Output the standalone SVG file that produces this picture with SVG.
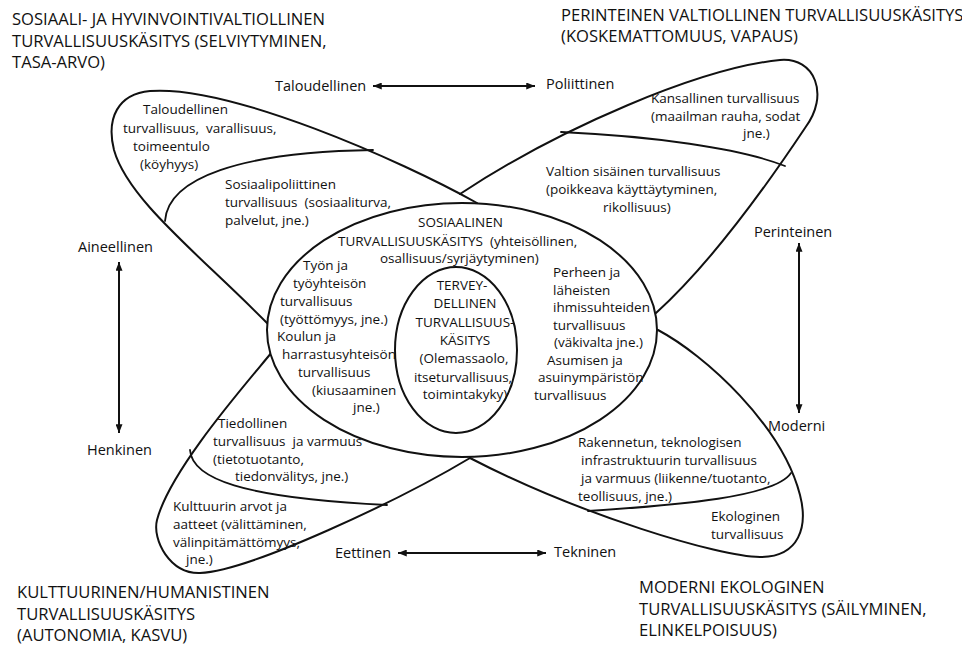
<svg xmlns="http://www.w3.org/2000/svg" width="962" height="646" viewBox="0 0 962 646">
<style>
text{font-family:"Open Sans","Noto Sans","Liberation Sans",sans-serif;fill:#111;white-space:pre}
.t{font-size:13.5px}
.ax{font-size:14.5px}
.h{font-size:16.6px}
.ln{fill:none;stroke:#111;stroke-width:2;stroke-linejoin:round;stroke-linecap:round}
.dv{fill:none;stroke:#111;stroke-width:1.8;stroke-linecap:round}
.ell{fill:#fff;stroke:#111;stroke-width:2}
.arr{stroke:#111;stroke-width:2;fill:none;marker-start:url(#ah);marker-end:url(#ah)}
.mid{text-anchor:middle}
</style>
<defs>
<marker id="ah" viewBox="0 0 10 8" refX="10" refY="4" markerWidth="9" markerHeight="7" markerUnits="userSpaceOnUse" orient="auto-start-reverse">
<path d="M0,0 L10,4 L0,8 z" fill="#111"/>
</marker>
</defs>
<rect width="962" height="646" fill="#fff"/>

<g id="titles">
<text class="h" x="12" y="25">SOSIAALI- JA HYVINVOINTIVALTIOLLINEN</text>
<text class="h" x="12" y="47">TURVALLISUUSKÄSITYS (SELVIYTYMINEN,</text>
<text class="h" x="12" y="68">TASA-ARVO)</text>
<text class="h" x="561" y="21">PERINTEINEN VALTIOLLINEN TURVALLISUUSKÄSITYS</text>
<text class="h" x="561" y="42">(KOSKEMATTOMUUS, VAPAUS)</text>
<text class="h" x="17" y="598">KULTTUURINEN/HUMANISTINEN</text>
<text class="h" x="17" y="620">TURVALLISUUSKÄSITYS</text>
<text class="h" x="17" y="641">(AUTONOMIA, KASVU)</text>
<text class="h" x="639" y="593">MODERNI EKOLOGINEN</text>
<text class="h" x="639" y="615">TURVALLISUUSKÄSITYS (SÄILYMINEN,</text>
<text class="h" x="639" y="636">ELINKELPOISUUS)</text>
</g>

<g id="petal-tl">
<path class="ln" d="M477,203 C400,160 230,85 150,91 C118,94 106,118 114,150 C128,200 200,255 268,324"/>
<path class="dv" d="M165,221 C168,178 240,152 373,150"/>
<text class="t" x="143" y="114">Taloudellinen</text>
<text class="t" x="123" y="133">turvallisuus,  varallisuus,</text>
<text class="t" x="133" y="151">toimeentulo</text>
<text class="t" x="140" y="169">(köyhyys)</text>
<text class="t" x="225" y="189">Sosiaalipoliittinen</text>
<text class="t" x="225" y="207">turvallisuus  (sosiaaliturva,</text>
<text class="t" x="225" y="225">palvelut, jne.)</text>
</g>

<g id="petal-tr">
<path class="ln" d="M460,194 C560,128 700,68 780,60 C815,57 830,95 805,128 C785,158 720,255 656,313"/>
<path class="dv" d="M561,132 C650,136 740,148 785,166"/>
<text class="t" x="651" y="103">Kansallinen turvallisuus</text>
<text class="t" x="651" y="121">(maailman rauha, sodat</text>
<text class="t" x="743" y="138">jne.)</text>
<text class="t" x="546" y="176">Valtion sisäinen turvallisuus</text>
<text class="t" x="546" y="194">(poikkeava käyttäytyminen,</text>
<text class="t" x="603" y="212">rikollisuus)</text>
</g>

<g id="petal-bl">
<path class="ln" d="M272,352 C245,385 170,470 157,520 C152,540 170,574 200,573 C250,571 400,500 470,458"/>
<path class="dv" d="M190,450 C192,478 240,498 387,505"/>
<text class="t" x="218" y="428">Tiedollinen</text>
<text class="t" x="213" y="446">turvallisuus  ja varmuus</text>
<text class="t" x="213" y="464">(tietotuotanto,</text>
<text class="t" x="235" y="481">tiedonvälitys, jne.)</text>
<text class="t" x="173" y="511">Kulttuurin arvot ja</text>
<text class="t" x="173" y="529">aatteet (välittäminen,</text>
<text class="t" x="173" y="547">välinpitämättömyys,</text>
<text class="t" x="186" y="564">jne.)</text>
</g>

<g id="petal-br">
<path class="ln" d="M658,330 C705,355 782,425 800,495 C808,526 800,557 760,557 C720,557 580,515 470,458"/>
<path class="dv" d="M588,511 C680,505 775,497 791,473"/>
<text class="t" x="578" y="447">Rakennetun, teknologisen</text>
<text class="t" x="581" y="465">infrastruktuurin turvallisuus</text>
<text class="t" x="581" y="483">ja varmuus (liikenne/tuotanto,</text>
<text class="t" x="578" y="501">teollisuus, jne.)</text>
<text class="t" x="711" y="521">Ekologinen</text>
<text class="t" x="711" y="539">turvallisuus</text>
</g>

<g id="center">
<ellipse class="ell" cx="462" cy="330" rx="195" ry="127"/>
<text class="t" x="418" y="227">SOSIAALINEN</text>
<text class="t" x="338" y="246">TURVALLISUUSKÄSITYS  (yhteisöllinen,</text>
<text class="t" x="380" y="263">osallisuus/syrjäytyminen)</text>
<text class="t" x="303" y="270">Työn ja</text>
<text class="t" x="293" y="288">työyhteisön</text>
<text class="t" x="280" y="306">turvallisuus</text>
<text class="t" x="280" y="324">(työttömyys, jne.)</text>
<text class="t" x="277" y="341">Koulun ja</text>
<text class="t" x="282" y="359">harrastusyhteisön</text>
<text class="t" x="298" y="377">turvallisuus</text>
<text class="t" x="312" y="395">(kiusaaminen</text>
<text class="t" x="353" y="412">jne.)</text>
<text class="t" x="553" y="277">Perheen ja</text>
<text class="t" x="553" y="295">läheisten</text>
<text class="t" x="553" y="312">ihmissuhteiden</text>
<text class="t" x="553" y="330">turvallisuus</text>
<text class="t" x="554" y="347">(väkivalta jne.)</text>
<text class="t" x="547" y="365">Asumisen ja</text>
<text class="t" x="538" y="382">asuinympäristön</text>
<text class="t" x="534" y="400">turvallisuus</text>
</g>

<g id="inner">
<ellipse class="ell" cx="456" cy="350" rx="61" ry="83"/>
<text class="t mid" x="462" y="290">TERVEY-</text>
<text class="t mid" x="465" y="308">DELLINEN</text>
<text class="t mid" x="465" y="327">TURVALLISUUS-</text>
<text class="t mid" x="465" y="345">KÄSITYS</text>
<text class="t mid" x="464" y="363">(Olemassaolo,</text>
<text class="t mid" x="463" y="382">itseturvallisuus,</text>
<text class="t mid" x="465" y="399">toimintakyky)</text>
</g>

<g id="axis-labels">
<text class="ax" x="275" y="91">Taloudellinen</text>
<text class="ax" x="546" y="89">Poliittinen</text>
<text class="ax" x="78" y="252">Aineellinen</text>
<text class="ax" x="87" y="455">Henkinen</text>
<text class="ax" x="754" y="237">Perinteinen</text>
<text class="ax" x="768" y="431">Moderni</text>
<text class="ax" x="335" y="558">Eettinen</text>
<text class="ax" x="554" y="557">Tekninen</text>
</g>

<g id="connectors">
<line class="arr" x1="373" y1="86" x2="535" y2="86"/>
<line class="arr" x1="119" y1="262" x2="119" y2="433"/>
<line class="arr" x1="799" y1="243" x2="799" y2="413"/>
<line class="arr" x1="398" y1="553" x2="546" y2="553"/>
</g>
</svg>
